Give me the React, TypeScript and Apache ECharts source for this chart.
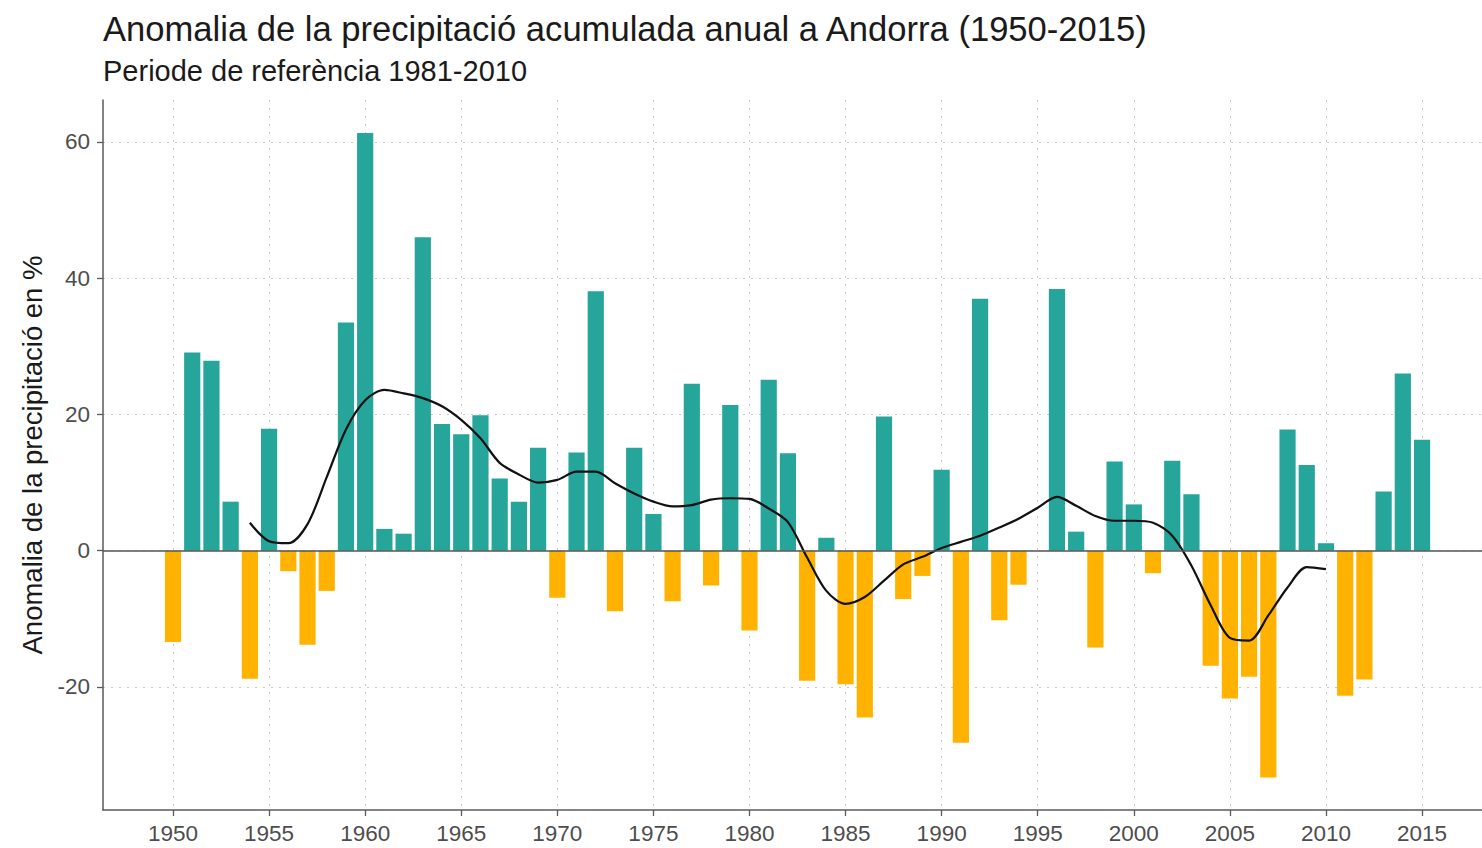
import React, { useEffect, useRef } from "react";
import * as echarts from "echarts";

const years = [
  1950, 1951, 1952, 1953, 1954, 1955, 1956, 1957, 1958, 1959,
  1960, 1961, 1962, 1963, 1964, 1965, 1966, 1967, 1968, 1969,
  1970, 1971, 1972, 1973, 1974, 1975, 1976, 1977, 1978, 1979,
  1980, 1981, 1982, 1983, 1984, 1985, 1986, 1987, 1988, 1989,
  1990, 1991, 1992, 1993, 1994, 1995, 1996, 1997, 1998, 1999,
  2000, 2001, 2002, 2003, 2004, 2005, 2006, 2007, 2008, 2009,
  2010, 2011, 2012, 2013, 2014, 2015,
];

const anomalies = [
  -13.4, 29.1, 27.9, 7.2, -18.8, 17.9, -3.0, -13.8, -5.9, 33.5,
  61.3, 3.2, 2.5, 46.0, 18.6, 17.1, 19.9, 10.6, 7.2, 15.1,
  -6.9, 14.4, 38.1, -8.9, 15.1, 5.4, -7.4, 24.5, -5.1, 21.4,
  -11.7, 25.1, 14.3, -19.1, 1.9, -19.6, -24.5, 19.7, -7.1, -3.7,
  11.9, -28.2, 37.0, -10.2, -5.0, 0, 38.4, 2.8, -14.2, 13.1,
  6.8, -3.3, 13.2, 8.3, -16.9, -21.7, -18.5, -33.3, 17.8, 12.6,
  1.1, -21.3, -18.9, 8.7, 26.0, 16.3,
];

const smoothYears = [
  1954, 1955, 1956, 1957, 1958, 1959, 1960, 1961, 1962, 1963,
  1964, 1965, 1966, 1967, 1968, 1969, 1970, 1971, 1972, 1973,
  1974, 1975, 1976, 1977, 1978, 1979, 1980, 1981, 1982, 1983,
  1984, 1985, 1986, 1987, 1988, 1989, 1990, 1991, 1992, 1993,
  1994, 1995, 1996, 1997, 1998, 1999, 2000, 2001, 2002, 2003,
  2004, 2005, 2006, 2007, 2008, 2009, 2010,
];

const smoothValues = [
  4.1, 1.4, 1.1, 3.9, 10.8, 17.8, 22.1, 23.6, 23.1, 22.4,
  21.2, 19.2, 16.5, 12.9, 11.2, 10.0, 10.4, 11.6, 11.6, 9.9,
  8.4, 7.2, 6.5, 6.7, 7.5, 7.7, 7.6, 6.2, 4.2, -1.0,
  -5.9, -7.8, -6.8, -4.4, -2.0, -0.9, 0.4, 1.3, 2.2, 3.4,
  4.7, 6.3, 7.9, 6.6, 5.1, 4.4, 4.4, 4.1, 2.2, -2.2,
  -8.0, -12.8, -13.2, -9.5, -5.4, -2.4, -2.7,
];

const xTickYears = [1950, 1955, 1960, 1965, 1970, 1975, 1980, 1985, 1990, 1995, 2000, 2005, 2010, 2015];
const yTicks = [-20, 0, 20, 40, 60];

const TITLE = "Anomalia de la precipitació acumulada anual a Andorra (1950-2015)";
const SUBTITLE = "Periode de referència 1981-2010";
const Y_NAME = "Anomalia de la precipitació en %";

const TEAL = "#26a69a";
const AMBER = "#ffb300";
const FONT = "'Liberation Sans', Arial, Helvetica, sans-serif";

export default function App() {
  const ref = useRef<HTMLDivElement>(null);

  useEffect(() => {
    if (!ref.current) return;
    const chart = echarts.init(ref.current, undefined, { renderer: "svg" });
    const gridLine = { color: "#c6c6c6", type: [2, 6] as any, width: 1 };
    const axisGrey = "#5a5a5a";
    chart.setOption({
      animation: false,
      backgroundColor: "#ffffff",
      textStyle: { fontFamily: FONT },
      title: [
        {
          text: TITLE,
          left: 98,
          top: 6,
          textStyle: { fontSize: 34.6, fontWeight: "normal", color: "#1a1a1a", fontFamily: FONT },
        },
        {
          text: SUBTITLE,
          left: 98,
          top: 51,
          textStyle: { fontSize: 29, fontWeight: "normal", color: "#1a1a1a", fontFamily: FONT },
        },
      ],
      grid: { left: 103, right: 0, top: 100, bottom: 38, containLabel: false },
      xAxis: {
        type: "value",
        min: 1946.357,
        max: 2018.12,
        axisLine: { show: true, onZero: false, lineStyle: { color: axisGrey, width: 1.5 } },
        axisTick: { show: true, length: 6, customValues: xTickYears, lineStyle: { color: axisGrey, width: 1.3 } },
        axisLabel: {
          customValues: xTickYears,
          fontSize: 22.5,
          color: "#4d4d4d",
          margin: 12,
          fontFamily: FONT,
          formatter: (v: number) => String(v),
        },
        splitLine: { show: true, lineStyle: gridLine },
      },
      yAxis: {
        type: "value",
        min: -38.06,
        max: 66.16,
        name: Y_NAME,
        nameLocation: "middle",
        nameGap: 55,
        nameTextStyle: { fontSize: 27.5, color: "#1a1a1a", fontFamily: FONT },
        axisLine: { show: true, lineStyle: { color: axisGrey, width: 1.5 } },
        axisTick: { show: true, length: 6, customValues: yTicks, lineStyle: { color: axisGrey, width: 1.3 } },
        axisLabel: {
          customValues: yTicks,
          fontSize: 22.5,
          color: "#4d4d4d",
          margin: 13,
          fontFamily: FONT,
          formatter: (v: number) => String(v),
        },
        splitLine: { show: true, lineStyle: gridLine },
      },
      series: [
        {
          type: "bar",
          barWidth: 16.2,
          data: years.map((y, i) => ({
            value: [y, anomalies[i]],
            itemStyle: { color: anomalies[i] >= 0 ? TEAL : AMBER },
          })),
          markLine: {
            silent: true,
            symbol: "none",
            label: { show: false },
            lineStyle: { color: "#555555", width: 1.5, type: "solid" },
            data: [{ yAxis: 0 }],
          },
          z: 2,
        },
        {
          type: "line",
          data: smoothYears.map((y, i) => [y, smoothValues[i]]),
          smooth: 0.3,
          symbol: "none",
          lineStyle: { color: "#111111", width: 2.2 },
          z: 4,
        },
      ],
    });
    return () => chart.dispose();
  }, []);

  return (
    <div
      ref={ref}
      style={{ position: "absolute", left: 0, top: 0, width: 1482, height: 848, background: "#fff" }}
    />
  );
}
